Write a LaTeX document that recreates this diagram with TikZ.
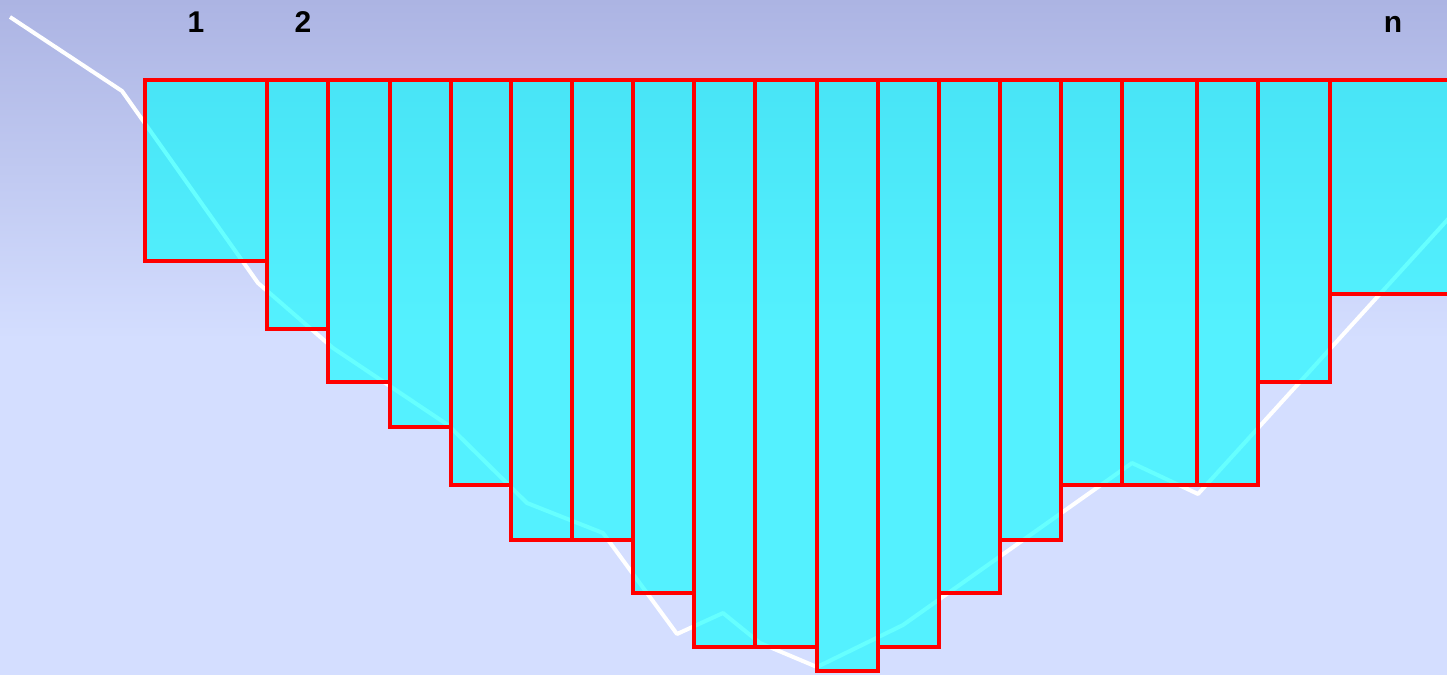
\documentclass[tikz,border=0pt]{standalone}
\usepackage{fontspec}
\setmainfont{Liberation Sans}
\definecolor{bgtop}{RGB}{172,180,227}
\definecolor{bgbot}{RGB}{212,222,255}
\definecolor{barred}{RGB}{255,0,0}
\definecolor{barfill}{RGB}{0,255,255}
\tikzset{
  barbox/.style={draw=barred, line width=3.6pt, fill=barfill, fill opacity=0.6, draw opacity=1},
  profile/.style={draw=white, line width=4pt, line join=round},
  lbl/.style={font=\bfseries\fontsize{30}{30}\selectfont, text=black, inner sep=0pt, anchor=base}
}
\begin{document}
\begin{tikzpicture}[x=1pt,y=-1pt]
\useasboundingbox (0,0) rectangle (1447,675);
\clip (0,0) rectangle (1447,675);
% background
\shade[top color=bgtop, bottom color=bgbot] (0,0) rectangle (1447,340);
\fill[bgbot] (0,339) rectangle (1447,675);
% profile line
\draw[profile] (10,17) coordinate (p0) -- (122,91) -- (258,283) -- (333,348) -- (448,425)
  -- (527,503) -- (603,533) -- (677,634) -- (723,613) -- (760,643) -- (817,667)
  -- (903,625) -- (1132,463) -- (1198,494) -- (1460,206) coordinate (p1);
% bars
\foreach \xa/\xb/\yb in {145/267/261, 267/328/329, 328/390/382, 390/451/427, 451/511/485,
  511/572/540, 572/633/540, 633/694/593, 694/755/647, 755/817/647, 817/878/671,
  878/939/647, 939/1000/593, 1000/1061/540, 1061/1122/485, 1122/1197/485,
  1197/1258/485, 1258/1330/382, 1330/1470/294}
  \draw[barbox] (\xa,80) rectangle (\xb,\yb);
% labels
\node[lbl] (l1) at (196,32) {1};
\node[lbl] (l2) at (303,32) {2};
\node[lbl] (ln) at (1393,32) {n};
\end{tikzpicture}
\end{document}
